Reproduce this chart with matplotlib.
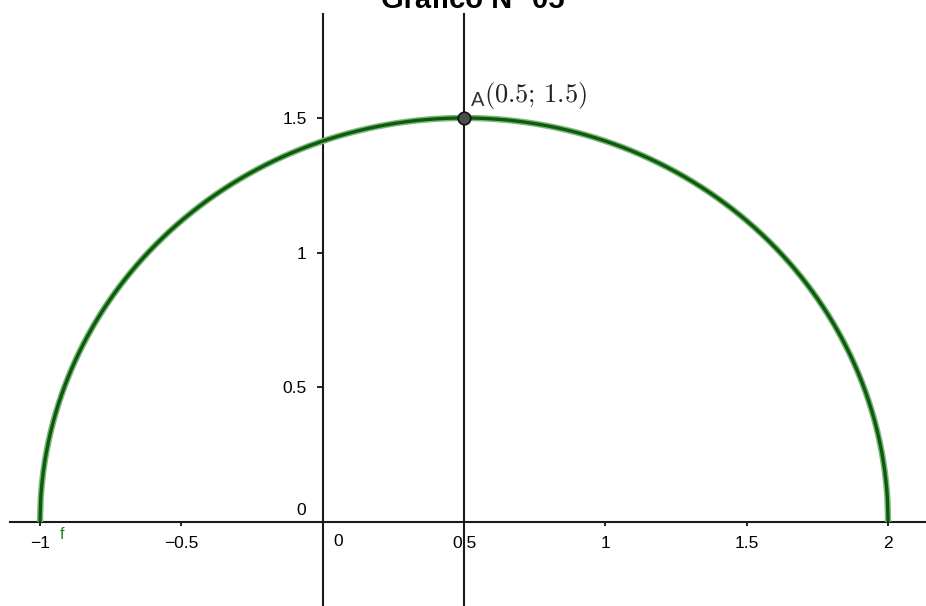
import matplotlib.pyplot as plt
import numpy as np

plt.rcParams['font.family'] = ['Liberation Sans', 'DejaVu Sans']
plt.rcParams['mathtext.fontset'] = 'cm'

# Semicircunferencia f: centro (h; 0), radio r
h = 0.5
r = 1.5
punto_A = (0.5, 1.5)
recta_x = 0.5

x_ticks = [-1, -0.5, 0.5, 1, 1.5, 2]
x_labels = ['\u22121', '\u22120.5', '0.5', '1', '1.5', '2']
y_ticks = [0.5, 1, 1.5]
y_labels = ['0.5', '1', '1.5']

# Semicircunferencia y = sqrt(r^2 - (x - h)^2)
x = np.linspace(h - r, h + r, 1200)
y = np.sqrt(np.clip(r ** 2 - (x - h) ** 2, 0, None))

fig = plt.figure(figsize=(9.26, 6.06), dpi=100)
ax = fig.add_axes([0, 0, 1, 1])
ax.set_xlim(-1.1415, 2.134)
ax.set_ylim(-0.312, 1.938)

for s in ['top', 'right']:
    ax.spines[s].set_visible(False)
ax.spines['left'].set_position(('data', 0))
ax.spines['bottom'].set_position(('data', 0))
ax.spines['left'].set_bounds(-0.312, 1.886)
ax.spines['bottom'].set_bounds(-1.106, 2.134)
for s in ['left', 'bottom']:
    ax.spines[s].set_linewidth(1.5)
    ax.spines[s].set_color('#1a1a1a')

ax.set_xticks(x_ticks)
ax.set_xticklabels(x_labels)
ax.set_yticks(y_ticks)
ax.set_yticklabels(y_labels)
ax.tick_params(axis='x', direction='out', length=3, width=1.2, pad=7, labelsize=12.5)
ax.tick_params(axis='y', direction='out', length=4.5, width=1.2, pad=7, labelsize=12.5)

# Etiquetas del origen
ax.text(0.055, -0.045, '0', fontsize=12.5, ha='center', va='top')
ax.text(-0.06, 0.015, '0', fontsize=12.5, ha='right', va='bottom')

# Recta vertical x = 0.5
ax.plot([recta_x, recta_x], [-0.312, 1.886], color='#1a1a1a', lw=1.5, zorder=2)

# Curva f
ax.plot(x, y, color='#7fb57f', lw=4.5, solid_capstyle='butt', zorder=3)
ax.plot(x, y, color='#0b5d0b', lw=2.4, solid_capstyle='butt', zorder=4)
ax.text(-0.93, -0.02, 'f', color='#1e7d1e', fontsize=11.5, ha='left', va='top')

# Punto A
ax.plot(*punto_A, 'o', ms=9, mfc='#4d4d4d', mec='#111111', mew=1.2, zorder=5)
ax.text(punto_A[0] + 0.025, punto_A[1] + 0.03, 'A', fontsize=14.5,
        ha='left', va='bottom', color='#333333')
ax.text(punto_A[0] + 0.07, punto_A[1] + 0.027, r'$(0.5;\,1.5)$', fontsize=19,
        ha='left', va='bottom', color='#222222')

fig.text(0.51, 1.0, 'Gráfico N° 05', fontsize=21, fontweight='bold',
         ha='center', va='center')

fig.savefig('out.png', dpi=100)
